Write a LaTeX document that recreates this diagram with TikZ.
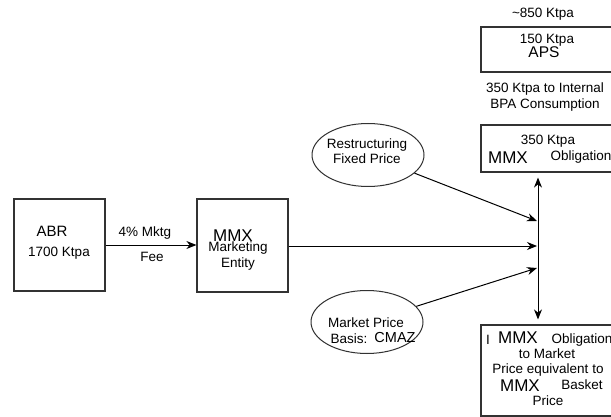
\documentclass[tikz,border=0pt]{standalone}
\usepackage{fontspec}
\setmainfont{Liberation Sans}
\usetikzlibrary{shapes,arrows.meta,positioning,calc}
\definecolor{boxgrey}{RGB}{50,50,50}

\begin{document}
\begin{tikzpicture}[x=1pt,y=-1pt,
  box/.style={draw=boxgrey, line width=1.2pt, rectangle, inner sep=0pt},
  bubble/.style={draw=boxgrey, line width=1pt, ellipse, minimum width=112pt, minimum height=63pt, inner sep=0pt},
  txt/.style={font=\fontsize{13.5}{15.5}\selectfont, inner sep=0pt, align=center},
  bigtxt/.style={font=\fontsize{17}{19}\selectfont, inner sep=0pt},
  flow/.style={line width=1pt, -{Stealth[length=10pt,width=8pt]}}]
  \clip (0,0) rectangle (611,417);

  % Source and marketing entity
  \node[box, minimum width=91pt, minimum height=92pt] (abr) at (59.5,245) {};
  \node[txt, font=\fontsize{15}{17}\selectfont] (abrname) at (52,231) {ABR};
  \node[txt] (abrvol) at (59,253) {1700 Ktpa};
  \node[box, minimum width=91pt, minimum height=93pt] (mmx) at (242.5,245.5) {};
  \node[bigtxt] (mmxname) at (233,236) {MMX};
  \node[txt] (mmxrole) at (238,256) {Marketing\\Entity};

  \draw[flow] (abr.east) -- (abr.east -| mmx.west);
  \node[txt] (feetop) at (145,233) {4\% Mktg};
  \node[txt] (feebot) at (152,257) {Fee};

  % Price inputs
  \node[bubble] (fixed) at (368,155) {};
  \node[txt] (fixedtxt) at (367,151) {Restructuring\\Fixed Price};
  \node[bubble] (mktprice) at (367,322) {};
  \node[txt] (mkttxt) at (366,323) {Market Price};
  \node[txt] (basis) at (349,339) {Basis:};
  \node[txt, font=\fontsize{14.5}{16}\selectfont] (cmaz) at (395,338) {CMAZ};

  % Split point
  \coordinate (spine) at (538,245);
  \coordinate (hubtop) at (537,221);
  \coordinate (hubmid) at (537,246);
  \coordinate (hubbot) at (537,268);
  \draw[flow] (fixed) -- (hubtop);
  \draw[flow] (mmx.east |- hubmid) -- (hubmid);
  \draw[flow] (mktprice) -- (hubbot);

  % Volume boxes
  \node[txt] (total) at (543,14) {\textasciitilde850 Ktpa};
  \node[box, minimum width=134pt, minimum height=45pt] (aps) at (548,49.5) {};
  \node[txt] (apsvol) at (547,40) {150 Ktpa};
  \node[txt, font=\fontsize{15.5}{17}\selectfont] (apsname) at (544,52) {APS};
  \node[txt] (bpa) at (545,97) {350 Ktpa to Internal\\BPA Consumption};
  \node[box, minimum width=134pt, minimum height=47pt] (obl) at (548,148.5) {};
  \node[txt] (oblvol) at (548,141) {350 Ktpa};
  \node[bigtxt] (oblmmx) at (508,158) {MMX};
  \node[txt] (obltxt) at (581,157) {Obligation};
  \node[box, minimum width=134pt, minimum height=91pt] (mkt) at (548,370.5) {};
  \node[txt] (mktI) at (488,340) {I};
  \node[bigtxt] (mktmmx) at (518,338) {MMX};
  \node[txt] (mktobl) at (582,340) {Obligation};
  \node[txt] (mktl2) at (547,354) {to Market};
  \node[txt] (mktl3) at (548,370) {Price equivalent to};
  \node[bigtxt] (mktmmx2) at (520,386) {MMX};
  \node[txt] (mktbasket) at (582,385) {Basket};
  \node[txt] (mktl5) at (548,401) {Price};

  \draw[line width=1pt, {Stealth[length=10pt,width=8pt]}-{Stealth[length=10pt,width=8pt]},
    shorten <=5pt, shorten >=5pt] (spine |- obl.south) -- (spine |- mkt.north);
\end{tikzpicture}
\end{document}
